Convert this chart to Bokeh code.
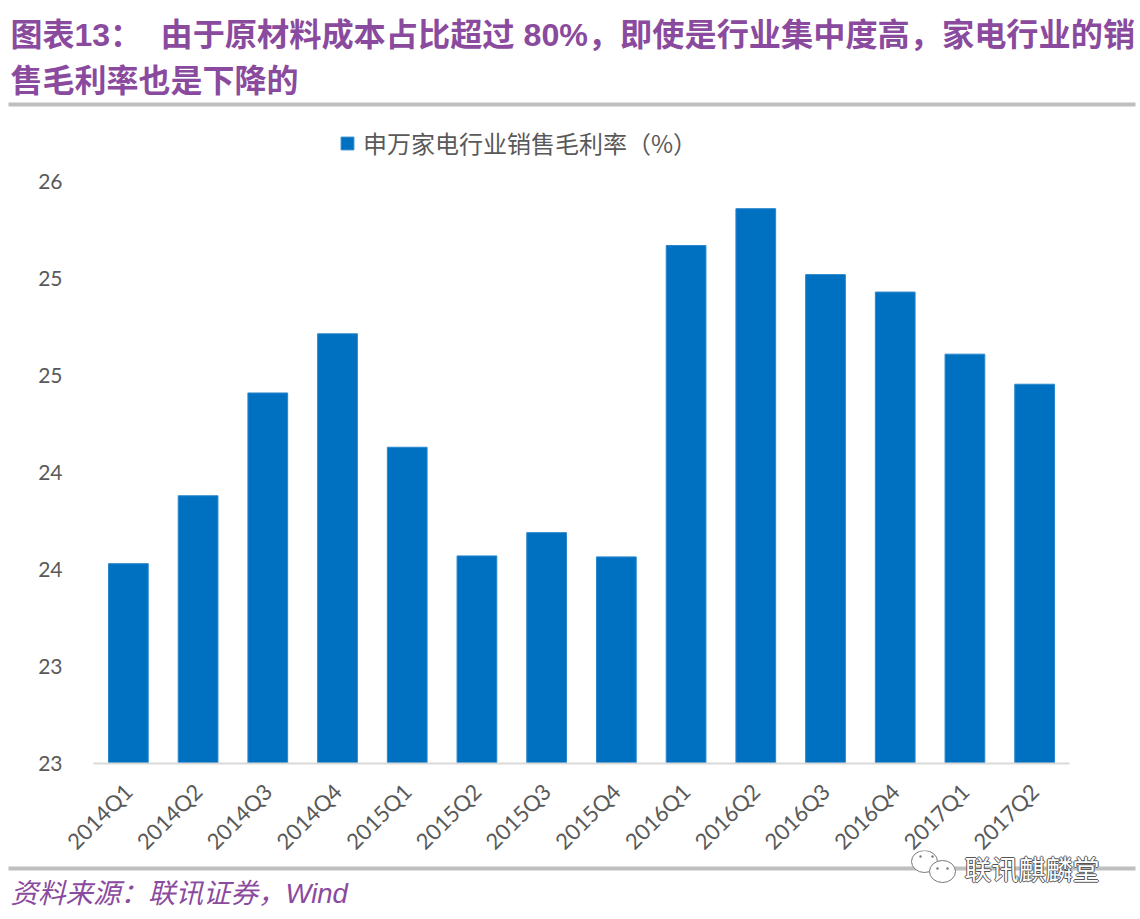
import math
from bokeh.plotting import figure
from bokeh.layouts import column
from bokeh.models import FactorRange, Range1d, FixedTicker, Label, Legend, LegendItem
from bokeh.embed import file_html
from bokeh.resources import INLINE

categories = ["2014Q1","2014Q2","2014Q3","2014Q4","2015Q1","2015Q2","2015Q3","2015Q4",
              "2016Q1","2016Q2","2016Q3","2016Q4","2017Q1","2017Q2"]
margin_values = [24.03,24.38,24.91,25.215,24.63,24.07,24.19,24.065,25.67,25.86,25.52,25.43,25.11,24.955]
y_ticks = [23,23.5,24,24.5,25,25.5,26]
y_tick_labels = ["23","23","24","24","25","25","26"]
series_name = "申万家电行业销售毛利率（%）"
title_1a = "图表13："
title_1b = "由于原材料成本占比超过 80%，即使是行业集中度高，家电行业的销"
title_2 = "售毛利率也是下降的"
source = "资料来源：联讯证券，Wind"
watermark = "联讯麒麟堂"

W = 1136
HEAD_H, MAIN_H, FOOT_H = 122, 745, 65
OVERLAP = 17
PURPLE = "#8A4A9E"
GREY = "#595959"
CJK = "Noto Sans CJK SC"
MIX = "'Liberation Sans', 'Noto Sans CJK SC'"

def strip(h, **kw):
    f = figure(width=W, height=h, x_range=Range1d(0, W), y_range=Range1d(h, 0), output_backend="svg",
               toolbar_location=None, x_axis_type=None, y_axis_type=None, frame_align=False,
               min_border=0, min_border_left=0, min_border_right=0, min_border_top=0, min_border_bottom=0,
               background_fill_color="white", border_fill_color="white", outline_line_color=None, **kw)
    f.xgrid.visible = False
    f.ygrid.visible = False
    return f

def text(f, x, y, s, size, color=PURPLE, style="normal", font=MIX):
    f.add_layout(Label(x=x, y=y, text=s, text_font=font, text_font_size=size, text_color=color,
                       text_font_style=style, text_baseline="middle", text_align="left"))

def rule(f, top, bottom, left=8, right=1135):
    f.quad(left=left, right=right, top=top, bottom=bottom, fill_color="#BFBFBF", line_color=None)

def oval(f, cx, cy, rx, ry, fill="white", line="#777777"):
    f.ellipse(x=cx, y=cy, width=2*rx, height=2*ry, fill_color=fill, line_color=line, line_width=1)

# header
head = strip(HEAD_H)
text(head, 10, 34, title_1a, "32px", style="bold")
text(head, 160, 34, title_1b, "32.2px", style="bold")
text(head, 10, 80, title_2, "32px", style="bold")
rule(head, 102, 106)

# main chart
p = figure(width=W, height=MAIN_H, x_range=FactorRange(factors=categories, range_padding=0, factor_padding=0),
           y_range=Range1d(23, 26 + 59/194), output_backend="svg", toolbar_location=None, frame_align=False,
           min_border_left=93, min_border_right=67, min_border_top=0, min_border_bottom=104,
           background_fill_color="white", border_fill_color="white", outline_line_color=None)
bars = p.vbar(x=categories, top=margin_values, bottom=23, width=0.57, fill_color="#0070C0", line_color="#2A88CC", line_width=1)
p.xgrid.visible = False
p.ygrid.visible = False
ya = p.yaxis[0]
ya.ticker = FixedTicker(ticks=y_ticks)
ya.major_label_overrides = {t: l for t, l in zip(y_ticks, y_tick_labels)}
ya.axis_line_color = None
ya.major_tick_line_color = None
ya.minor_tick_line_color = None
ya.major_label_standoff = 25
ya.major_label_text_font = "Lato"
ya.major_label_text_font_size = "21px"
ya.major_label_text_color = GREY
xa = p.xaxis[0]
xa.axis_line_color = "#D9D9D9"
xa.axis_line_width = 2
xa.major_tick_line_color = None
xa.minor_tick_line_color = None
xa.major_label_orientation = math.pi / 4
xa.major_label_standoff = 18
xa.major_label_text_font = "Lato"
xa.major_label_text_font_size = "22px"
xa.major_label_text_color = GREY
legend = Legend(items=[LegendItem(label=series_name, renderers=[bars])], location=(246, 603),
                orientation="horizontal", border_line_color=None, background_fill_alpha=0,
                padding=0, margin=0, spacing=0, glyph_width=16, glyph_height=16, label_standoff=8,
                label_text_font=CJK, label_text_font_size="24px", label_text_color=GREY)
p.add_layout(legend, "center")

# footer
OFF = HEAD_H + MAIN_H - OVERLAP
foot = strip(FOOT_H, margin=(-OVERLAP, 0, 0, 0))
rule(foot, 866-OFF, 870-OFF)
text(foot, 10, 893-OFF, source, "27.5px", style="italic")
oval(foot, 924, 861-OFF, 13, 11)
oval(foot, 942, 871-OFF, 13, 11)
for dx, dy in [(920, 856), (932, 856), (937, 868), (947, 868)]:
    oval(foot, dx, dy-OFF, 1.2, 1.2, fill="#777777", line=None)
for ox, oy in [(-1,0),(1,0),(0,-1),(0,1)]:
    text(foot, 964+ox, 868-OFF+oy, watermark, "27px", color="#555555", font=CJK)
text(foot, 964, 868-OFF, watermark, "27px", color="white", font=CJK)

page = column(head, p, foot, spacing=0)
open("out.html", "w").write(file_html(page, INLINE))
